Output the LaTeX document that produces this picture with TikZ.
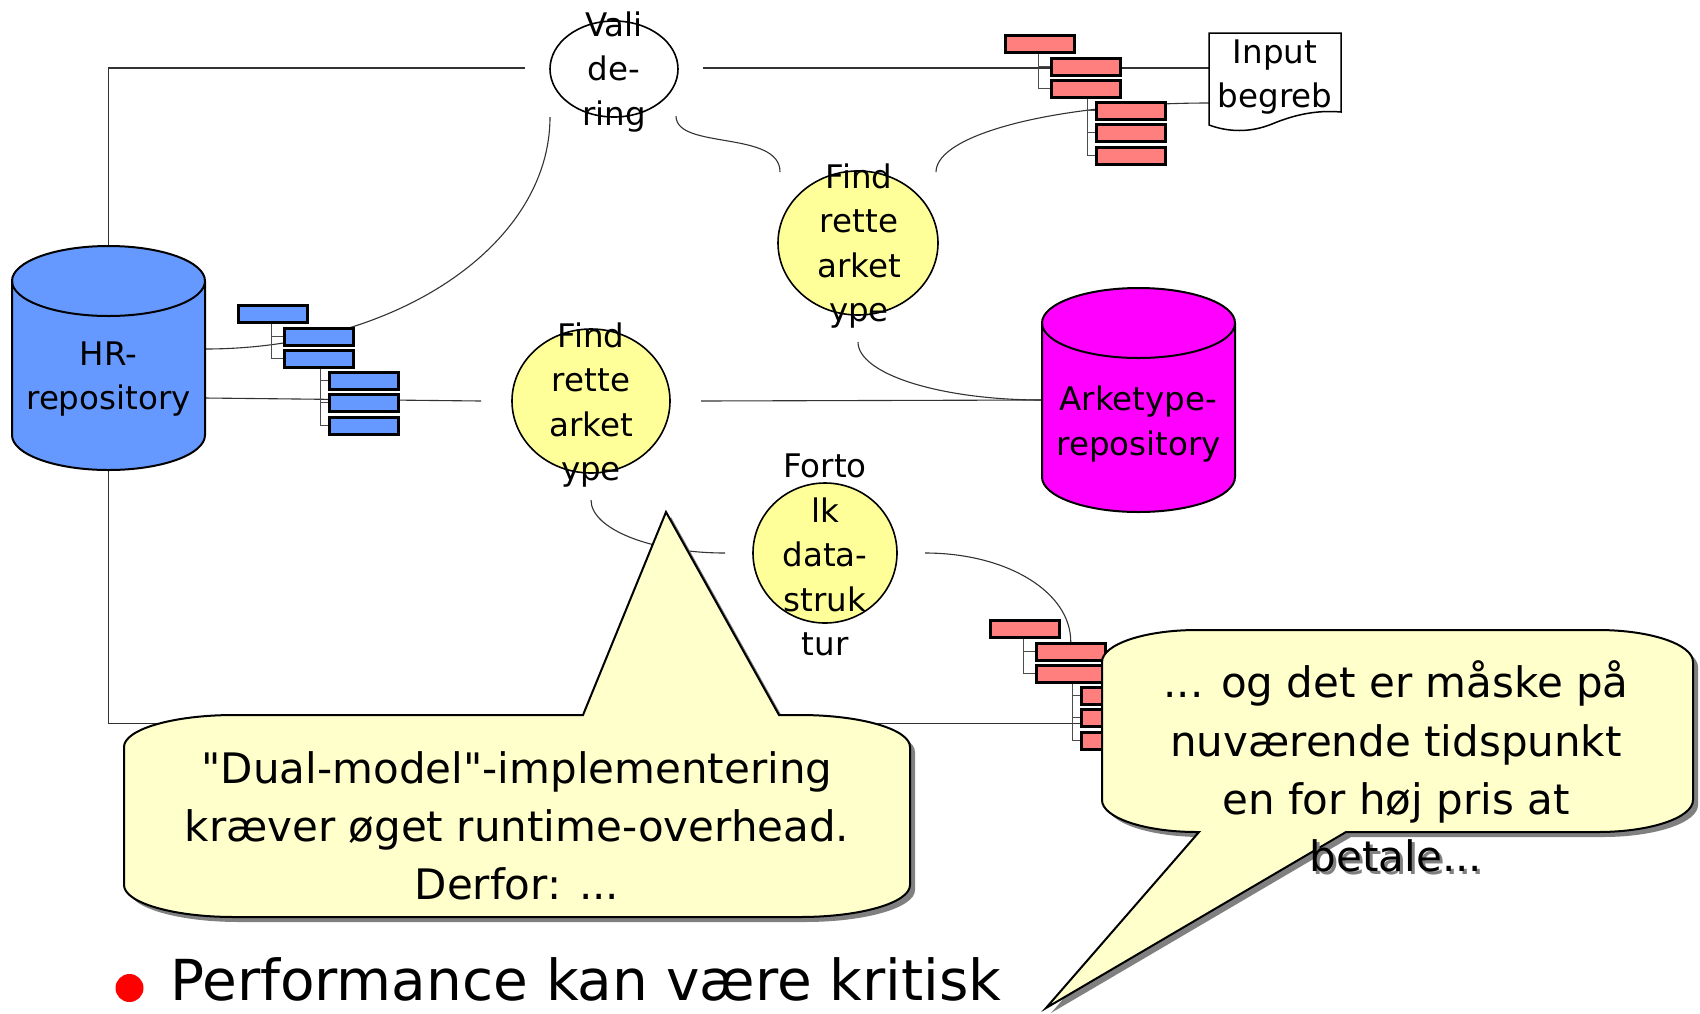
\documentclass[tikz,border=0pt]{standalone}
\usepackage{fontspec}
\setmainfont{DejaVu Sans}[Ligatures=TeXOff]
\usetikzlibrary{shapes.geometric,backgrounds}
\definecolor{hrblue}{HTML}{6699FF}
\definecolor{treered}{HTML}{FF7F7F}
\definecolor{nodeyel}{HTML}{FFFF99}
\definecolor{callyel}{HTML}{FFFFCC}
\definecolor{arkmag}{HTML}{FF00FF}
\definecolor{shadowgray}{HTML}{808080}
\definecolor{bulletred}{HTML}{FF0000}
\newcommand\hiertree[4]{%
\begin{scope}[shift={(#2,#3)}]
\node[trect,fill=#4] (#1-1) at (0,0) {};
\node[trect,fill=#4] (#1-2) at (46,23) {};
\node[trect,fill=#4] (#1-3) at (46,45) {};
\node[trect,fill=#4] (#1-4) at (91,67) {};
\node[trect,fill=#4] (#1-5) at (91,89) {};
\node[trect,fill=#4] (#1-6) at (91,112) {};
\draw[tline] ([xshift=34pt]#1-1.south west) |- (#1-2.west);
\draw[tline] ([xshift=34pt]#1-1.south west) |- (#1-3.west);
\draw[tline] ([xshift=37pt]#1-3.south west) |- (#1-4.west);
\draw[tline] ([xshift=37pt]#1-3.south west) |- (#1-5.west);
\draw[tline] ([xshift=37pt]#1-3.south west) |- (#1-6.west);
\end{scope}}
\newcommand\leftcall[1]{\path[#1] (234,715) -- (583,715) -- (666,512) -- (779,715) -- (800,715)
 .. controls (860.7,715) and (910,729.3) .. (910,747) -- (910,885)
 .. controls (910,902.7) and (860.7,917) .. (800,917) -- (234,917)
 .. controls (173.3,917) and (124,902.7) .. (124,885) -- (124,747)
 .. controls (124,729.3) and (173.3,715) .. (234,715) -- cycle;}
\newcommand\rightcall[1]{\path[#1] (1197,630) -- (1598,630)
 .. controls (1650.4,630) and (1693,644.3) .. (1693,662) -- (1693,800)
 .. controls (1693,817.7) and (1650.4,832) .. (1598,832) -- (1346,832) -- (1046,1008) -- (1199,832) -- (1197,832)
 .. controls (1144.6,832) and (1102,817.7) .. (1102,800) -- (1102,662)
 .. controls (1102,644.3) and (1144.6,630) .. (1197,630) -- cycle;}
\begin{document}
\begin{tikzpicture}[x=1pt,y=-1pt,
  trect/.style={draw=black,line width=2.5pt,minimum width=69pt,minimum height=17pt,inner sep=0pt,anchor=north west},
  tline/.style={draw=black!70,line width=1pt},
  conn/.style={draw=black!80,line width=1.1pt},
  cylstyle/.style={draw=black,line width=2pt},
  ell/.style={ellipse,draw=black,line width=1.6pt,inner sep=0pt},
  lbl/.style={align=center,inner sep=0pt,font=\fontsize{32.5}{44.5}\selectfont},
  ctext/.style={align=center,inner sep=0pt,font=\fontsize{42}{58.3}\selectfont},
  callbox/.style={draw=black,line width=2pt,fill=callyel},
  callshadow/.style={fill=shadowgray,shift={(5,5)}}]
\useasboundingbox (0,0) rectangle (1700,1013);

% HR repository cylinder
\draw[cylstyle,fill=hrblue] (12,281) -- (12,435) .. controls (12,454.3) and (55.2,470) .. (108.5,470) .. controls (161.8,470) and (205,454.3) .. (205,435) -- (205,281) .. controls (205,261.7) and (161.8,246) .. (108.5,246) .. controls (55.2,246) and (12,261.7) .. (12,281) -- cycle;
\draw[cylstyle] (12,281) .. controls (12,300.3) and (55.2,316) .. (108.5,316) .. controls (161.8,316) and (205,300.3) .. (205,281);
\node[lbl] (hr) at (108.5,379) {HR-\\repository};
\coordinate (hr-n) at (108.5,246);
\coordinate (hr-s) at (108.5,470);
\coordinate (hr-e1) at (205,349);
\coordinate (hr-e2) at (205,398);

% Arketype repository cylinder
\draw[cylstyle,fill=arkmag] (1042,323) -- (1042,477) .. controls (1042,496.3) and (1085.2,512) .. (1138.5,512) .. controls (1191.8,512) and (1235,496.3) .. (1235,477) -- (1235,323) .. controls (1235,303.7) and (1191.8,288) .. (1138.5,288) .. controls (1085.2,288) and (1042,303.7) .. (1042,323) -- cycle;
\draw[cylstyle] (1042,323) .. controls (1042,342.3) and (1085.2,358) .. (1138.5,358) .. controls (1191.8,358) and (1235,342.3) .. (1235,323);
\node[lbl] (ark) at (1138.5,424) {Arketype-\\repository};
\coordinate (ar-w) at (1042,400);

% process ellipses
\node[ell,fill=white,minimum width=128pt,minimum height=96pt] (val) at (614,69) {};
\node[ell,fill=nodeyel,minimum width=160pt,minimum height=144pt] (fu) at (858,243) {};
\node[ell,fill=nodeyel,minimum width=158pt,minimum height=144pt] (fl) at (591,401) {};
\node[ell,fill=nodeyel,minimum width=144pt,minimum height=140pt] (fo) at (825,553) {};
\coordinate (val-w) at (525,68);
\coordinate (val-e) at (703,68);
\coordinate (val-sw) at (550,117);
\coordinate (val-se) at (676,116);
\coordinate (fu-nw) at (780,172);
\coordinate (fu-ne) at (936,172);
\coordinate (fu-s) at (858,342);
\coordinate (fl-w) at (481,401);
\coordinate (fl-e) at (701,401);
\coordinate (fl-s) at (591,500);
\coordinate (fo-w) at (725,553);
\coordinate (fo-e) at (925,553);

% input document
\draw[draw=black,line width=1.5pt,fill=white] (1209,33) -- (1341,33) -- (1341,112) .. controls (1318,110) and (1296,114) .. (1272,124) .. controls (1250,133) and (1228,132) .. (1209,125) -- cycle;
\node[lbl] (inp) at (1275,77) {Input\\begreb};
\coordinate (inp-w1) at (1209,68);
\coordinate (inp-w2) at (1209,103);

% hierarchies
\hiertree{bl}{237}{304}{hrblue}
\hiertree{bt}{1004}{34}{treered}
\hiertree{bb}{989}{619}{treered}

% labels of the ellipses
\node[lbl] (valt) at (614,72) {Vali\\de-\\ring};
\node[lbl] (fut) at (859,246) {Find\\rette\\arket\\ype};
\node[lbl] (flt) at (591,405) {Find\\rette\\arket\\ype};
\node[lbl] (fot) at (825,555) {Forto\\lk\\data-\\struk\\tur};

% connectors
\begin{scope}[on background layer]
\fill[white] (0,0) rectangle (1700,1013);
\draw[conn] (hr-n) |- (val-w);
\draw[conn] (val-e) -- (inp-w1);
\draw[conn] (inp-w2) .. controls (1058,103) and (936,134) .. (fu-ne);
\draw[conn] (val-se) .. controls (676,150) and (780,130) .. (fu-nw);
\draw[conn] (hr-e1) .. controls (396,349) and (550,245) .. (val-sw);
\draw[conn] (hr-e2) -- (fl-w);
\draw[conn] (fl-e) -- (ar-w);
\draw[conn] (fu-s) .. controls (858,374) and (940,400) .. (ar-w);
\draw[conn] (fl-s) .. controls (591,529) and (651,553) .. (fo-w);
\draw[conn] (fo-e) .. controls (1007,553) and (1071,592) .. (bb-2.north);
\draw[conn] (hr-s) |- ([yshift=-6pt]bb-5.west);
\end{scope}

% left callout
\leftcall{callshadow}
\leftcall{callbox}
\node[ctext] (lct) at (517,826) {"Dual-model"-implementering\\kræver øget runtime-overhead.\\Derfor: ...};

% right callout
\rightcall{callshadow}
\rightcall{callbox}
\node[ctext] (rct) at (1396,742) {... og det er måske på\\nuværende tidspunkt\\en for høj pris at};
\node[ctext,text=shadowgray] (rcs) at (1399,859) {betale...};
\node[ctext] (rcb) at (1396,856) {betale...};

% bullet line
\node[circle,fill=bulletred,minimum size=28pt,inner sep=0pt] (bul) at (129.5,988) {};
\node[anchor=base west,inner sep=0pt,font=\fontsize{56.5}{66}\selectfont] (perf) at (170,1000) {Performance kan være kritisk};
\end{tikzpicture}
\end{document}
